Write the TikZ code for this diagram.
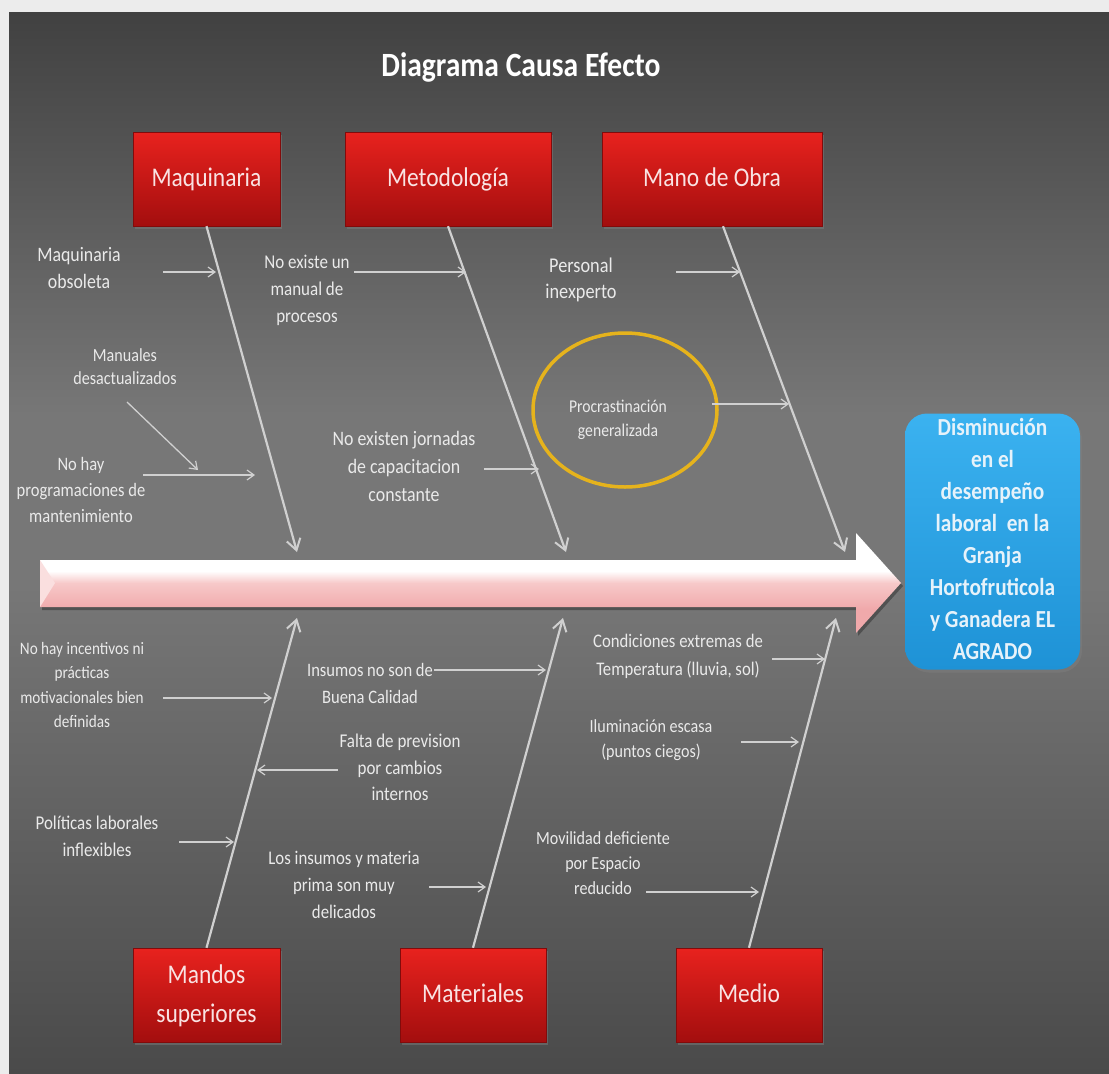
\documentclass[tikz,border=0pt]{standalone}
\usepackage{fontspec}
\setmainfont{Carlito}
\usepackage{graphicx}
\usetikzlibrary{arrows.meta,shadows}
\definecolor{framecol}{HTML}{ECECEC}
\definecolor{ptop}{HTML}{414141}
\definecolor{pmid}{HTML}{777777}
\definecolor{pbot}{HTML}{4A4A4A}
\definecolor{redtop}{HTML}{E8221E}
\definecolor{redbot}{HTML}{A30E0E}
\definecolor{redtext}{HTML}{F9E3E3}
\definecolor{bluetop}{HTML}{3BB2F0}
\definecolor{bluebot}{HTML}{1E92D6}
\definecolor{bluetext}{HTML}{E6F2FA}
\definecolor{bonecol}{HTML}{D0D0D0}
\definecolor{lbltext}{HTML}{EAEAEA}
\definecolor{spkA}{HTML}{F7C9C9}
\definecolor{spkB}{HTML}{F0A9AB}
\definecolor{goldcol}{HTML}{E6B31C}
\pgfdeclareverticalshading{panelshade}{100bp}{color(0bp)=(pbot); color(25bp)=(pbot); color(48bp)=(pmid); color(56bp)=(pmid); color(75bp)=(ptop); color(100bp)=(ptop)}
\pgfdeclareverticalshading{spineshade}{100bp}{color(0bp)=(spkB); color(37bp)=(spkB); color(50bp)=(spkA); color(56bp)=(white); color(100bp)=(white)}
\newcommand{\sq}[1]{\scalebox{0.87}[1]{\begin{tabular}{@{}c@{}}#1\end{tabular}}}
\tikzset{
  redbox/.style={rectangle, inner sep=0pt, minimum height=94pt, top color=redtop, bottom color=redbot, draw=redbot!80!black, line width=0.4pt, text=redtext, font=\fontsize{27}{39}\selectfont, drop shadow={shadow xshift=2pt, shadow yshift=-3pt, opacity=0.45}},
  lbl/.style={inner sep=0pt, text=lbltext},
  bone/.style={draw=bonecol, line width=2.2pt, -{Straight Barb[length=11pt, width=14pt, line width=2pt]}},
  twig/.style={draw=bonecol, line width=1.3pt, -{Straight Barb[length=7pt, width=10pt, line width=1.2pt]}},
}
\begin{document}
\begin{tikzpicture}[x=1pt,y=-1pt]
\useasboundingbox (0,0) rectangle (1109,1074);
% frame and panel
\fill[framecol] (0,0) rectangle (1109,1074);
\shade[shading=panelshade] (9,12) rectangle (1109,1074);

% title
\node[inner sep=0pt, text=white, font=\fontsize{34}{41}\selectfont\bfseries] (title) at (521,68) {\sq{Diagrama Causa Efecto}};

% category boxes
\node[redbox, minimum width=147pt] (maq) at (206.5,179) {\sq{Maquinaria}};
\node[redbox, minimum width=206pt] (met) at (448,179) {\sq{Metodología}};
\node[redbox, minimum width=220pt] (mano) at (712,179) {\sq{Mano de Obra}};
\node[redbox, minimum width=147pt] (mandos) at (206.5,995) {\sq{Mandos\\superiores}};
\node[redbox, minimum width=146pt] (mat) at (473,995) {\sq{Materiales}};
\node[redbox, minimum width=146pt] (medio) at (749,995) {\sq{Medio}};

% ellipse highlight
\draw[goldcol, line width=3.5pt] (625,410) ellipse [x radius=92, y radius=77];

% bone tips
\coordinate (tmaq) at (297,552);
\coordinate (tmet) at (566,552);
\coordinate (tmano) at (845,552);
\coordinate (tmandos) at (297,618);
\coordinate (tmat) at (563,618);
\coordinate (tmedio) at (836,618);

\draw[bone] (maq.south) -- (tmaq);
\draw[bone] (met.south) -- (tmet);
\draw[bone] ([xshift=11pt]mano.south) -- (tmano);
\draw[bone] (mandos.north) -- (tmandos);
\draw[bone] (mat.north) -- (tmat);
\draw[bone] (medio.north) -- (tmedio);

% cause labels
\node[lbl, font=\fontsize{20.5}{27}\selectfont] (l1) at (79,270) {\sq{Maquinaria\\obsoleta}};
\node[lbl, font=\fontsize{19.5}{27}\selectfont] (l2) at (307,290) {\sq{No existe un\\manual de\\procesos}};
\node[lbl, font=\fontsize{18.5}{23}\selectfont] (l3) at (125,368) {\sq{Manuales\\desactualizados}};
\node[lbl, font=\fontsize{19}{26}\selectfont] (l4) at (81,491) {\sq{No hay\\programaciones de\\mantenimiento}};
\node[lbl, font=\fontsize{20.5}{28}\selectfont] (l5) at (404,468) {\sq{No existen jornadas\\de capacitacion\\constante}};
\node[lbl, font=\fontsize{21}{26}\selectfont] (l6) at (581,280) {\sq{Personal\\inexperto}};
\node[lbl, font=\fontsize{18}{24}\selectfont] (l7) at (618,420) {\sq{Procrastinación\\generalizada}};
\node[lbl, font=\fontsize{17.5}{24.5}\selectfont] (l8) at (82,686) {\sq{No hay incentivos ni\\prácticas\\motivacionales bien\\definidas}};
\node[lbl, font=\fontsize{19}{27}\selectfont] (l9) at (370,685) {\sq{Insumos no son de\\Buena Calidad}};
\node[lbl, font=\fontsize{19.5}{26.5}\selectfont] (l10) at (400,769) {\sq{Falta de prevision\\por cambios\\internos}};
\node[lbl, font=\fontsize{19.5}{27}\selectfont] (l11) at (97,838) {\sq{Políticas laborales\\inflexibles}};
\node[lbl, font=\fontsize{19.3}{27}\selectfont] (l12) at (344,886) {\sq{Los insumos y materia\\prima son muy\\delicados}};
\node[lbl, font=\fontsize{18.5}{25}\selectfont] (l13) at (603,864) {\sq{Movilidad deficiente\\por Espacio\\reducido}};
\node[lbl, font=\fontsize{19.2}{28}\selectfont] (l14) at (678,656) {\sq{Condiciones extremas de\\Temperatura (lluvia, sol)}};
\node[lbl, font=\fontsize{18.5}{25}\selectfont] (l15) at (651,740) {\sq{Iluminación escasa\\(puntos ciegos)}};

% twig arrow coordinates
\coordinate (a1) at (163,272);  \coordinate (b1) at (216,272);
\coordinate (a2) at (354,272);  \coordinate (b2) at (466,272);
\coordinate (a3) at (127,402);  \coordinate (b3) at (198,470);
\coordinate (a4) at (143,475);  \coordinate (b4) at (255,475);
\coordinate (a5) at (484,469);  \coordinate (b5) at (539,469);
\coordinate (a6) at (676,272);  \coordinate (b6) at (740,272);
\coordinate (a7) at (712,404);  \coordinate (b7) at (789,404);
\coordinate (a8) at (163,698);  \coordinate (b8) at (272,698);
\coordinate (a9) at (434,670);  \coordinate (b9) at (546,670);
\coordinate (a10) at (338,770); \coordinate (b10) at (257,770);
\coordinate (a11) at (179,842); \coordinate (b11) at (234,842);
\coordinate (a12) at (429,887); \coordinate (b12) at (486,887);
\coordinate (a13) at (646,892); \coordinate (b13) at (759,892);
\coordinate (a14) at (772,659); \coordinate (b14) at (825,659);
\coordinate (a15) at (741,742); \coordinate (b15) at (799,742);
\foreach \i in {1,...,15} {\draw[twig] (a\i) -- (b\i);}

% spine arrow
\fill[black, opacity=0.3, shift={(2,3)}] (40,560) -- (856,560) -- (856,533) -- (901,583) -- (856,633) -- (856,607) -- (40,607) -- cycle;
\shade[shading=spineshade] (40,560) -- (856,560) -- (856,533) -- (901,583) -- (856,633) -- (856,607) -- (40,607) -- cycle;
\fill[spkA!60!white] (40,560) -- (55,583) -- (40,607) -- cycle;

% effect box
\node[rectangle, rounded corners=22pt, minimum width=175pt, minimum height=253pt, inner sep=0pt, top color=bluetop, bottom color=bluebot, text=bluetext, font=\fontsize{24.5}{32}\selectfont\bfseries, drop shadow={shadow xshift=2pt, shadow yshift=-3pt, opacity=0.45}] (eff) at (992.5,541.5) {\sq{Disminución\\en el\\desempeño\\laboral \ en la\\Granja\\Hortofruticola\\y Ganadera EL\\AGRADO}};
\end{tikzpicture}
\end{document}
